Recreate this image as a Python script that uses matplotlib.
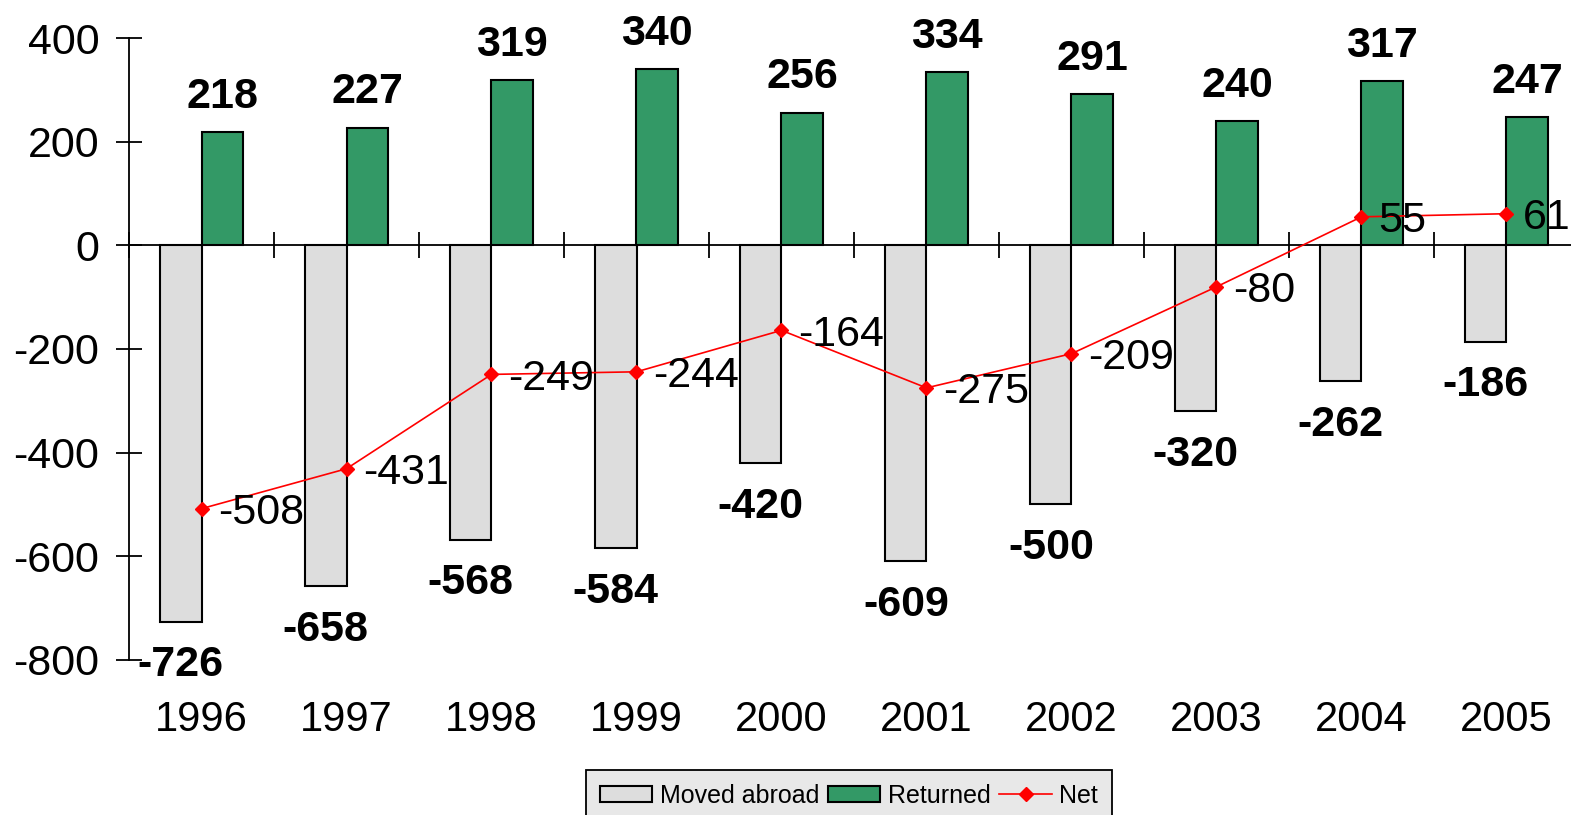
import numpy as np
import matplotlib
matplotlib.use('Agg')
import matplotlib.pyplot as plt
from matplotlib.patches import Patch
from matplotlib.lines import Line2D

plt.rcParams['font.family'] = ['Liberation Sans', 'DejaVu Sans']
plt.rcParams['axes.unicode_minus'] = False

years = ['1996', '1997', '1998', '1999', '2000', '2001', '2002', '2003', '2004', '2005']
moved_abroad = [-726, -658, -568, -584, -420, -609, -500, -320, -262, -186]
returned = [218, 227, 319, 340, 256, 334, 291, 240, 317, 247]
net = [-508, -431, -249, -244, -164, -275, -209, -80, 55, 61]

GRAY = '#dddddd'
GREEN = '#339966'
RED = '#ff0000'

W, H = 1571, 815
fig = plt.figure(figsize=(W / 100, H / 100), dpi=100)
ax = fig.add_axes([129 / W, 1 - 660 / H, 1450 / W, 622 / H])

x = np.arange(len(years))
bw = 0.285
ax.bar(x - bw / 2, moved_abroad, bw, color=GRAY, edgecolor='black', lw=1.5, zorder=2)
ax.bar(x + bw / 2, returned, bw, color=GREEN, edgecolor='black', lw=1.5, zorder=2)
ax.plot(x, net, color=RED, lw=1.2, marker='D', ms=6.8, mec=RED, mfc=RED, zorder=4)

fs = 31
for xi, v in zip(x, returned):
    ax.annotate(str(v), (xi + bw / 2, v), xytext=(0, 11), textcoords='offset points',
                ha='center', va='bottom', fontsize=fs, fontweight='bold')
for xi, v in zip(x, moved_abroad):
    ax.annotate(str(v), (xi - bw / 2, v), xytext=(0, -17), textcoords='offset points',
                ha='center', va='top', fontsize=fs, fontweight='bold')
for xi, v in zip(x, net):
    ax.annotate(str(v), (xi, v), xytext=(12, -3), textcoords='offset points',
                ha='left', va='center', fontsize=fs, zorder=5)

ax.set_xlim(-0.5, len(years) - 0.5)
ax.set_ylim(-800, 400)
ax.set_yticks([-800, -600, -400, -200, 0, 200, 400])
ax.tick_params(axis='y', direction='inout', length=19, width=1.3, labelsize=fs, pad=12)

ax.spines['top'].set_visible(False)
ax.spines['right'].set_visible(False)
ax.spines['left'].set_linewidth(1.3)
ax.spines['bottom'].set_position(('data', 0))
ax.spines['bottom'].set_linewidth(1.3)
ax.set_xticks(np.arange(len(years) + 1) - 0.5)
ax.set_xticklabels([])
ax.tick_params(axis='x', direction='inout', length=19, width=1.3)

# category labels sit at the bottom of the plot, not on the zero line
sec = ax.secondary_xaxis(0)
sec.set_xticks(x)
sec.set_xticklabels(years)
sec.tick_params(length=0, labelsize=30, pad=29)
sec.spines['bottom'].set_visible(False)

handles = [Patch(facecolor=GRAY, edgecolor='black', lw=1.5),
           Patch(facecolor=GREEN, edgecolor='black', lw=1.5),
           Line2D([], [], color=RED, lw=1.2, marker='D', ms=6.8)]
leg = fig.legend(handles, ['Moved abroad', 'Returned', 'Net'], ncol=3,
                 loc='upper left', bbox_to_anchor=(586 / W, 1 - 770 / H),
                 borderaxespad=0, fontsize=18, frameon=True, fancybox=False,
                 handlelength=2.1, handleheight=0.6, columnspacing=0.35,
                 handletextpad=0.3, borderpad=0.55)
leg.get_frame().set_facecolor('#e8e8e8')
leg.get_frame().set_edgecolor('black')
leg.get_frame().set_linewidth(1.3)
leg.get_frame().set_alpha(1)

fig.savefig('out.png', dpi=100)
